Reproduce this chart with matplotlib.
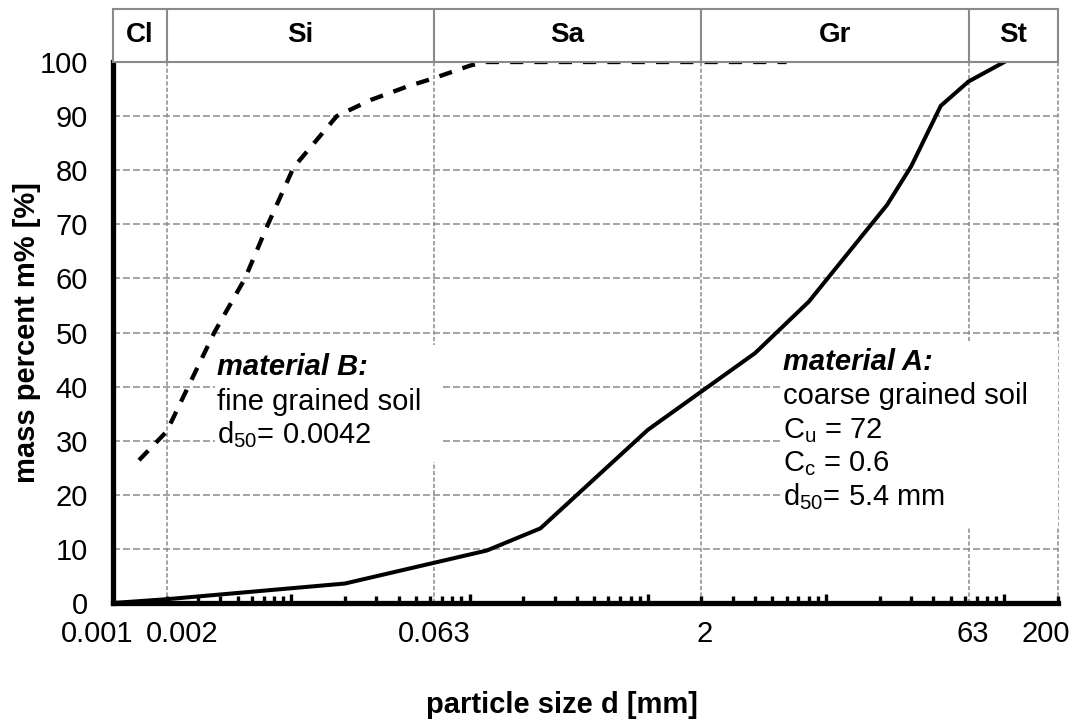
import matplotlib
matplotlib.use("Agg")
import matplotlib.pyplot as plt
from matplotlib.patches import Rectangle
from matplotlib.ticker import FixedLocator, NullFormatter

plt.rcParams["font.family"] = ["Liberation Sans", "DejaVu Sans"]
plt.rcParams["mathtext.fontset"] = "custom"
plt.rcParams["mathtext.rm"] = "Liberation Sans"
plt.rcParams["mathtext.it"] = "Liberation Sans:italic"
plt.rcParams["mathtext.bf"] = "Liberation Sans:bold"
plt.rcParams["lines.scale_dashes"] = False

# material A, coarse grained soil: sieve size [mm] vs. passing [%]
size_a = [0.001, 0.002, 0.02, 0.125, 0.25, 1.0, 4.0, 8.0, 22.0, 30.0, 44.0, 63.0, 100.0]
pass_a = [0.0, 0.7, 3.6, 9.7, 13.8, 32.0, 46.2, 55.7, 73.6, 80.7, 91.9, 96.4, 100.0]

# material B, fine grained soil
size_b = [0.0014, 0.002, 0.0037, 0.0055, 0.0074, 0.0103, 0.018, 0.028, 0.045,
          0.063, 0.1, 0.12, 6.0]
pass_b = [26.4, 31.7, 50.0, 60.0, 70.0, 80.5, 90.0, 93.0, 95.5,
          97.0, 99.3, 100.0, 100.0]

# soil classes (clay, silt, sand, gravel, stones) and their boundaries [mm]
class_edges = [0.001, 0.002, 0.063, 2, 63, 200]
class_names = ["Cl", "Si", "Sa", "Gr", "St"]

x_labels = ["0.001", "0.002", "0.063", "2", "63", "200"]
x_label_shift = [-16, 16, 0, 3, 4, -12]   # px, keeps neighbouring labels apart
y_ticks = list(range(0, 101, 10))

GRID = "#8a8a8a"
FS = 21
W, H = 1074, 726

fig = plt.figure(figsize=(W / 100, H / 100), dpi=100)
L, R, T, B, BAND_TOP = 113, 1058, 62, 603, 9
ax = fig.add_axes([L / W, 1 - B / H, (R - L) / W, (B - T) / H])
band = fig.add_axes([L / W, 1 - T / H, (R - L) / W, (T - BAND_TOP) / H], sharex=ax)

ax.set_xscale("log")
ax.set_xlim(class_edges[0], class_edges[-1])
ax.set_ylim(0, 100)

# grid
for v in y_ticks[1:-1]:
    ax.axhline(v, color=GRID, lw=1.1, ls=(0, (5, 2.2)), zorder=1)
for v in class_edges[1:]:
    ax.axvline(v, color=GRID, lw=1.1, ls=(0, (3, 1.6)), zorder=1, clip_on=False)

# white text boxes
ax.add_patch(Rectangle((0.108, 0.261), 0.241, 0.216, transform=ax.transAxes,
                       facecolor="white", edgecolor="none", zorder=2))
ax.add_patch(Rectangle((0.708, 0.140), 0.292, 0.341, transform=ax.transAxes,
                       facecolor="white", edgecolor="none", zorder=2))

ax.plot(size_a, pass_a, color="black", lw=2.9, zorder=4, solid_joinstyle="miter")
ax.plot(size_b, pass_b, color="black", lw=3.1, ls=(0, (9.5, 8)), zorder=4,
        dash_capstyle="butt")

# axes frame
for s in ("top", "right"):
    ax.spines[s].set_visible(False)
ax.spines["left"].set_linewidth(3.8)
ax.spines["bottom"].set_linewidth(3.8)

ax.xaxis.set_major_locator(FixedLocator([1e-3, 1e-2, 1e-1, 1, 10, 100]))
ax.xaxis.set_minor_locator(FixedLocator(
    [m * 10.0 ** k for k in range(-3, 3) for m in range(2, 10) if m * 10.0 ** k <= 200]))
ax.xaxis.set_major_formatter(NullFormatter())
ax.xaxis.set_minor_formatter(NullFormatter())
ax.tick_params(axis="x", which="major", direction="in", length=6.6, width=2.4)
ax.tick_params(axis="x", which="minor", direction="in", length=4.9, width=2.4)

for val, lab, dx in zip(class_edges, x_labels, x_label_shift):
    ax.annotate(lab, xy=(val, 0), xycoords=("data", "axes fraction"),
                xytext=(dx, -17), textcoords="offset pixels",
                ha="center", va="top", fontsize=FS)

ax.set_yticks(y_ticks)
ax.tick_params(axis="y", length=0, pad=18, labelsize=FS)

ax.set_ylabel("mass percent m% [%]", fontsize=FS, fontweight="bold", va="center")
ax.yaxis.set_label_coords(-0.091, 0.5)
ax.set_xlabel("particle size d [mm]", fontsize=FS, fontweight="bold", va="center")
ax.xaxis.set_label_coords(0.475, -0.188)

# material annotations
ax.text(0.110, 0.421, "material B:", transform=ax.transAxes, fontsize=FS,
        fontweight="bold", fontstyle="italic", va="baseline", zorder=3)
ax.text(0.110, 0.357, "fine grained soil", transform=ax.transAxes, fontsize=FS,
        va="baseline", zorder=3)
ax.text(0.110, 0.296, r"d$_\mathregular{50}$= 0.0042", transform=ax.transAxes,
        fontsize=FS, va="baseline", zorder=3)

lines_a = ["coarse grained soil", r"C$_\mathregular{u}$ = 72",
           r"C$_\mathregular{c}$ = 0.6", r"d$_\mathregular{50}$= 5.4 mm"]
ax.text(0.709, 0.431, "material A:", transform=ax.transAxes, fontsize=FS,
        fontweight="bold", fontstyle="italic", va="baseline", zorder=3)
for i, t in enumerate(lines_a):
    ax.text(0.709, 0.368 - i * 0.0625, t, transform=ax.transAxes, fontsize=FS,
            va="baseline", zorder=3)

# classification band above the plot
band.set_ylim(0, 1)
band.tick_params(which="both", length=0, labelbottom=False, labelleft=False)
for s in band.spines.values():
    s.set_color(GRID)
    s.set_linewidth(1.5)
for v in class_edges[1:-1]:
    band.axvline(v, color=GRID, lw=1.5)
for lo, hi, name in zip(class_edges[:-1], class_edges[1:], class_names):
    band.text((lo * hi) ** 0.5, 0.5, name, ha="center", va="center",
              fontsize=20, fontweight="bold")

fig.savefig("out.png", dpi=100)
